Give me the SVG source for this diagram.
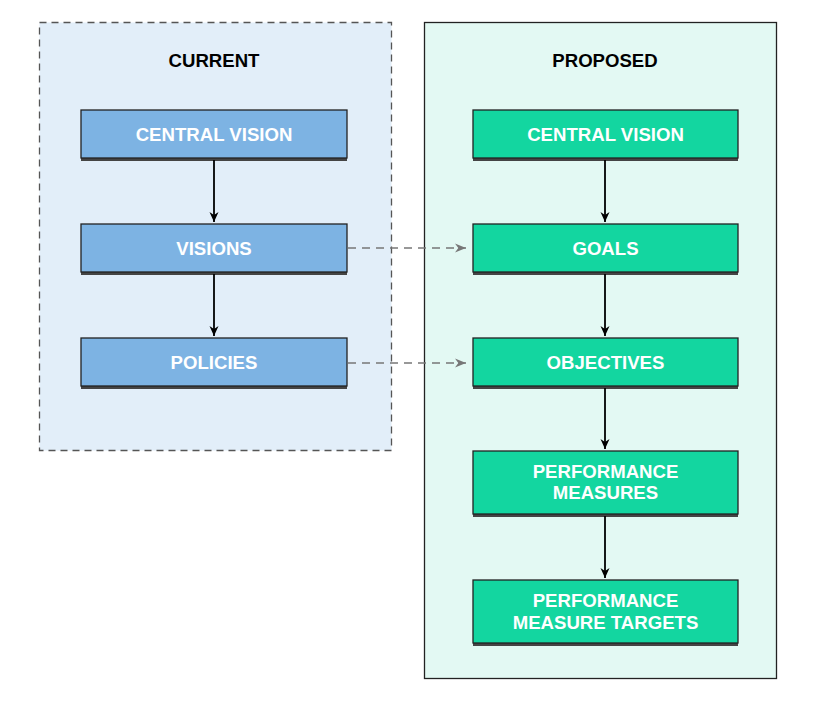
<svg xmlns="http://www.w3.org/2000/svg" width="818" height="704" viewBox="0 0 818 704">
<defs>
<style>
.title{font-family:"Liberation Sans",Arial,sans-serif;font-weight:bold;font-size:18.6px;fill:#000;text-anchor:middle}
.lbl{font-family:"Liberation Sans",Arial,sans-serif;font-weight:bold;font-size:18.6px;fill:#fff;text-anchor:middle}
.blue{fill:#7db3e3;stroke:#222;stroke-width:1.3}
.green{fill:#13d6a0;stroke:#222;stroke-width:1.3}
.shadow{fill:#444}
.flow{stroke:#000;stroke-width:1.8;fill:none;marker-end:url(#ah)}
.dash{stroke:#777;stroke-width:1.6;fill:none;stroke-dasharray:8,6;marker-end:url(#ahg)}
</style>
<marker id="ah" viewBox="0 0 10 10" refX="10" refY="5" markerWidth="10" markerHeight="10" markerUnits="userSpaceOnUse" orient="auto">
<path d="M0,0.5 L10,5 L0,9.5 L3,5 Z" fill="#000"/>
</marker>
<marker id="ahg" viewBox="0 0 10 10" refX="10" refY="5" markerWidth="11" markerHeight="11" markerUnits="userSpaceOnUse" orient="auto">
<path d="M0,1 L10,5 L0,9 L3,5 Z" fill="#777"/>
</marker>
</defs>
<rect width="818" height="704" fill="#fff"/>
<g id="current">
<rect x="39.5" y="22.5" width="352" height="428" fill="#e2eef9" stroke="#555" stroke-width="1.3" stroke-dasharray="7,5"/>
<text class="title" x="214" y="67">CURRENT</text>
</g>
<g id="proposed">
<rect x="424.5" y="22.5" width="352" height="656" fill="#e3f9f3" stroke="#222" stroke-width="1.3"/>
<text class="title" x="605" y="67">PROPOSED</text>
</g>
<g id="cur-central">
<rect class="shadow" x="81" y="112" width="266" height="49"/>
<rect class="blue" x="81" y="110" width="266" height="48"/>
<text class="lbl" x="214" y="141">CENTRAL VISION</text>
</g>
<g id="cur-visions">
<rect class="shadow" x="81" y="226" width="266" height="49"/>
<rect class="blue" x="81" y="224" width="266" height="48"/>
<text class="lbl" x="214" y="255">VISIONS</text>
</g>
<g id="cur-policies">
<rect class="shadow" x="81" y="340" width="266" height="49"/>
<rect class="blue" x="81" y="338" width="266" height="48"/>
<text class="lbl" x="214" y="369">POLICIES</text>
</g>
<g id="pro-central">
<rect class="shadow" x="473" y="112" width="265" height="49"/>
<rect class="green" x="473" y="110" width="265" height="48"/>
<text class="lbl" x="605.5" y="141">CENTRAL VISION</text>
</g>
<g id="pro-goals">
<rect class="shadow" x="473" y="226" width="265" height="49"/>
<rect class="green" x="473" y="224" width="265" height="48"/>
<text class="lbl" x="605.5" y="255">GOALS</text>
</g>
<g id="pro-objectives">
<rect class="shadow" x="473" y="340" width="265" height="49"/>
<rect class="green" x="473" y="338" width="265" height="48"/>
<text class="lbl" x="605.5" y="369">OBJECTIVES</text>
</g>
<g id="pro-measures">
<rect class="shadow" x="473" y="454" width="265" height="63"/>
<rect class="green" x="473" y="451" width="265" height="63"/>
<text class="lbl" x="605.5" y="478">PERFORMANCE</text>
<text class="lbl" x="605.5" y="499">MEASURES</text>
</g>
<g id="pro-targets">
<rect class="shadow" x="473" y="583" width="265" height="63"/>
<rect class="green" x="473" y="580" width="265" height="63"/>
<text class="lbl" x="605.5" y="607">PERFORMANCE</text>
<text class="lbl" x="605.5" y="629">MEASURE TARGETS</text>
</g>
<g id="connectors">
<line class="flow" x1="214" y1="160" x2="214" y2="222"/>
<line class="flow" x1="214" y1="274" x2="214" y2="336"/>
<line class="flow" x1="605" y1="160" x2="605" y2="222"/>
<line class="flow" x1="605" y1="274" x2="605" y2="336"/>
<line class="flow" x1="605" y1="388" x2="605" y2="449"/>
<line class="flow" x1="605" y1="516" x2="605" y2="578"/>
<line class="dash" x1="348" y1="248" x2="466" y2="248"/>
<line class="dash" x1="348" y1="363" x2="466" y2="363"/>
</g>
</svg>
